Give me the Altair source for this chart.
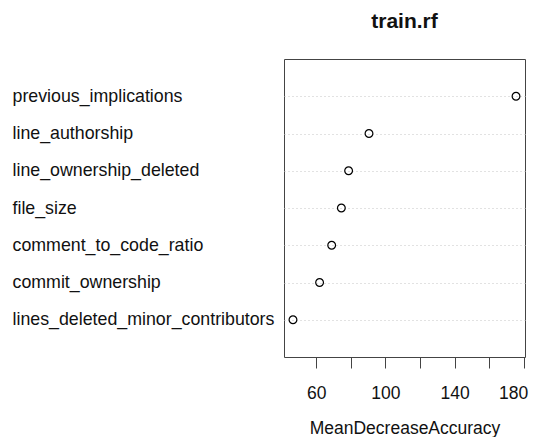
import altair as alt
import pandas as pd

variables = [
    "previous_implications",
    "line_authorship",
    "line_ownership_deleted",
    "file_size",
    "comment_to_code_ratio",
    "commit_ownership",
    "lines_deleted_minor_contributors",
]
mean_decrease_accuracy = [175.6, 90.5, 78.7, 74.5, 68.9, 61.9, 46.5]
x_ticks = [60, 80, 100, 120, 140, 160, 180]

df = pd.DataFrame({"variable": variables, "value": mean_decrease_accuracy})

FONT = "Liberation Sans"

chart = (
    alt.Chart(df)
    .mark_point(shape="circle", filled=False, color="black", size=60, strokeWidth=1.2, opacity=1)
    .encode(
        x=alt.X(
            "value:Q",
            scale=alt.Scale(domain=[41.3, 180.8], nice=False, zero=False),
            axis=alt.Axis(
                title="MeanDecreaseAccuracy",
                values=x_ticks,
                labelExpr="datum.value % 40 == 20 ? datum.label : ''",
                grid=False,
                domain=False,
                tickSize=11,
                tickColor="#444",
                labelPadding=16,
                titlePadding=18,
                labelFont=FONT,
                titleFont=FONT,
                labelFontSize=17.5,
                titleFontSize=17.5,
                titleFontWeight="normal",
                labelColor="#111",
                titleColor="#111",
                labelFlush=6,
                labelFlushOffset=4,
            ),
        ),
        y=alt.Y(
            "variable:N",
            sort=variables,
            scale=alt.Scale(domain=variables, padding=1),
            axis=alt.Axis(
                title=None,
                ticks=False,
                domain=False,
                grid=True,
                gridDash=[1, 3],
                gridColor="#c4c4c4",
                gridWidth=1,
                labelAlign="left",
                labelPadding=272,
                labelFont=FONT,
                labelFontSize=17.8,
                labelColor="#111",
                labelLimit=0,
            ),
        ),
    )
    .properties(
        width=241,
        height=298,
        title=alt.TitleParams(
            "train.rf",
            font=FONT,
            fontSize=21,
            fontWeight="bold",
            anchor="middle",
            baseline="alphabetic",
            offset=10,
            color="#111",
        ),
        autosize=alt.AutoSizeParams(type="none"),
        padding={"left": 276, "top": 51, "right": 4, "bottom": 80},
    )
    .configure_view(stroke="#444", strokeWidth=1)
)

chart.save("out.html", embed_options={"renderer": "svg", "actions": False})
